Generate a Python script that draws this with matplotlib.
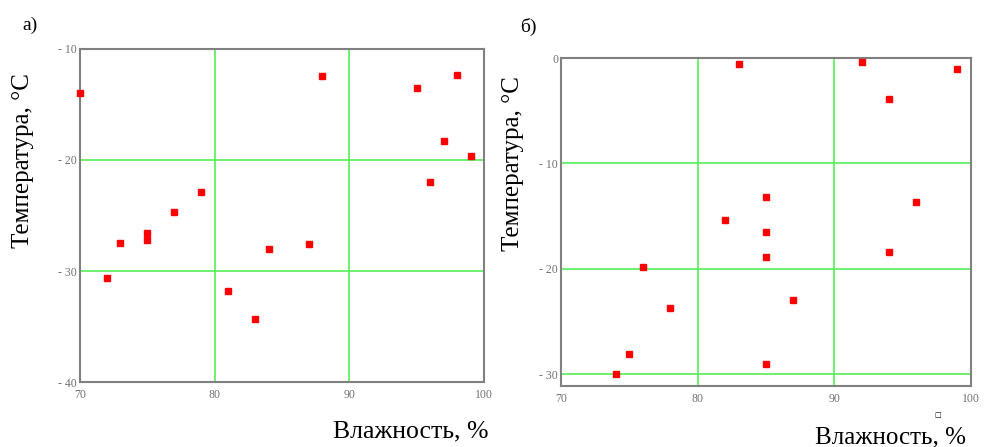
import numpy as np
import matplotlib.pyplot as plt

# panel a)
hum_a = [70, 72, 73, 75, 75, 77, 79, 81, 83, 84, 87, 88, 95, 96, 97, 98, 99]
temp_a = [-14, -30.6, -27.5, -26.6, -27.2, -24.7, -22.9, -31.8, -34.3, -28.0,
          -27.6, -12.4, -13.5, -22.0, -18.3, -12.3, -19.6]

# panel b)
hum_b = [74, 75, 76, 78, 82, 83, 85, 85, 85, 85, 87, 92, 94, 94, 96, 99]
temp_b = [-30.0, -28.1, -19.8, -23.7, -15.4, -0.6, -13.2, -16.5, -18.9, -29.0,
          -22.9, -0.4, -3.9, -18.4, -13.7, -1.0]

x_ticks = [70, 80, 90, 100]
y_ticks_a = [-10, -20, -30, -40]
y_ticks_b = [0, -10, -20, -30]

serif = 'Liberation Serif'
fig = plt.figure(figsize=(9.85, 4.47), dpi=100)

def setup(ax, xs, ys, yticks, ylim):
    ax.plot(xs, ys, 's', color='red', ms=5, mec='red', clip_on=False, zorder=3)
    ax.set_xlim(70, 100)
    ax.set_ylim(*ylim)
    ax.set_xticks(x_ticks)
    ax.set_yticks(yticks)
    ax.set_xticklabels([str(t) for t in x_ticks], family=serif)
    ax.set_yticklabels([('- ' + str(abs(t))) if t < 0 else str(t) for t in yticks],
                       family=serif)
    ax.tick_params(length=0, labelsize=8.5, labelcolor='#707070')
    ax.tick_params(axis='x', pad=5)
    ax.tick_params(axis='y', pad=2)
    ax.grid(True, color='#55ee55', lw=1.2)
    ax.set_axisbelow(True)
    for s in ax.spines.values():
        s.set_color('#808080')
        s.set_linewidth(1.5)

ax1 = fig.add_axes([0.0812, 0.1454, 0.4102, 0.745])
setup(ax1, hum_a, temp_a, y_ticks_a, (-40, -10))
ax2 = fig.add_axes([0.5695, 0.1365, 0.4163, 0.7337])
setup(ax2, hum_b, temp_b, y_ticks_b, (-31.1, 0))

fig.text(0.023, 0.943, 'а)', family=serif, fontsize=14, va='center')
fig.text(0.528, 0.94, 'б)', family=serif, fontsize=14, va='center')

fig.text(0.023, 0.64, 'Температура, °C', family=serif, fontsize=18,
         rotation=90, ha='center', va='center')
fig.text(0.521, 0.635, 'Температура, °C', family=serif, fontsize=18,
         rotation=90, ha='center', va='center')
fig.text(0.496, 0.034, 'Влажность, %', family=serif, fontsize=18.5,
         ha='right', va='center')
fig.text(0.981, 0.022, 'Влажность, %', family=serif, fontsize=18,
         ha='right', va='center')
fig.text(0.952, 0.072, '□', fontsize=5, ha='center', va='center')

fig.savefig('out.png', dpi=100)
